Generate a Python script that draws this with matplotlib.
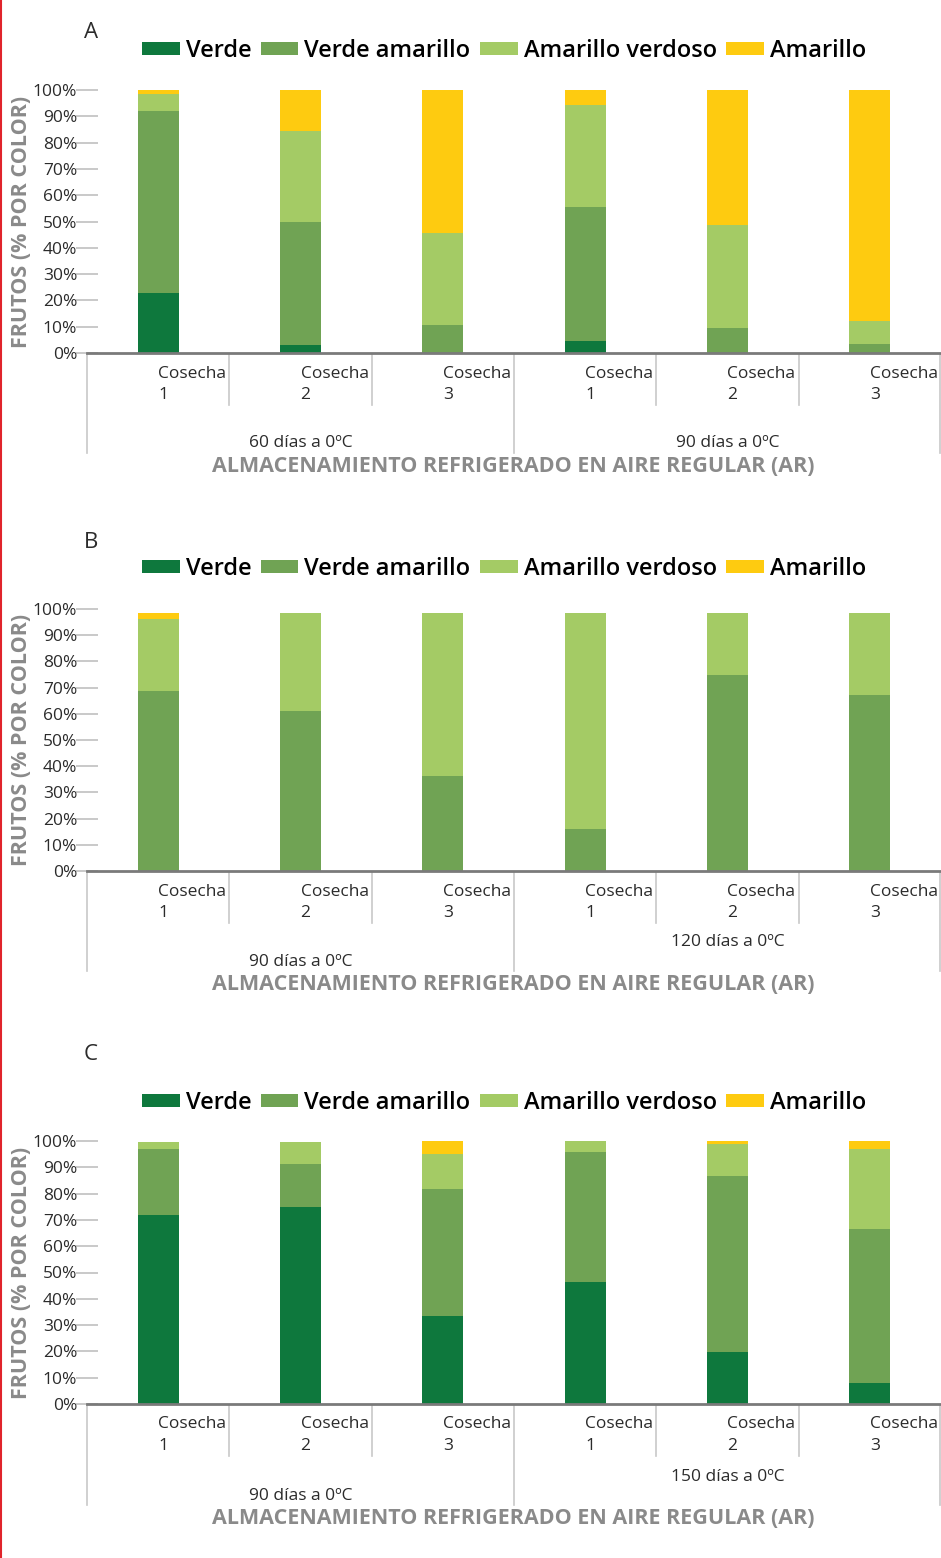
import matplotlib
matplotlib.use("Agg")
import matplotlib.pyplot as plt
from matplotlib.patches import Patch
from matplotlib.lines import Line2D
from matplotlib.transforms import blended_transform_factory
import numpy as np

# ---------------- data ----------------
categories = ["Cosecha\n1", "Cosecha\n2", "Cosecha\n3", "Cosecha\n1", "Cosecha\n2", "Cosecha\n3"]
series_names = ["Verde", "Verde amarillo", "Amarillo verdoso", "Amarillo"]
colors = ["#0e783d", "#70a354", "#a4cb65", "#fecb10"]

groups_A = ["60 días a 0ºC", "90 días a 0ºC"]
A_verde = [22.8, 2.9, 0.0, 4.4, 0.0, 0.0]
A_va = [69.2, 46.8, 10.5, 51.1, 9.4, 3.3]
A_av = [6.6, 34.7, 35.1, 38.8, 39.2, 8.8]
A_am = [1.4, 15.6, 54.4, 5.7, 51.4, 87.9]

groups_B = ["90 días a 0ºC", "120 días a 0ºC"]
B_verde = [0.0, 0.0, 0.0, 0.0, 0.0, 0.0]
B_va = [68.7, 61.1, 36.3, 16.0, 74.8, 67.2]
B_av = [27.5, 37.4, 62.2, 82.5, 23.7, 31.3]
B_am = [2.3, 0.0, 0.0, 0.0, 0.0, 0.0]

groups_C = ["90 días a 0ºC", "150 días a 0ºC"]
C_verde = [71.9, 74.9, 33.5, 46.4, 19.8, 8.0]
C_va = [25.1, 16.4, 48.3, 49.4, 66.9, 58.5]
C_av = [2.6, 8.3, 13.3, 4.2, 12.3, 30.4]
C_am = [0.0, 0.0, 4.9, 0.0, 1.0, 3.0]

panel_letters = ["A", "B", "C"]
y_ticks = [0, 10, 20, 30, 40, 50, 60, 70, 80, 90, 100]
y_label = "FRUTOS (% POR COLOR)"
x_title = "ALMACENAMIENTO REFRIGERADO EN AIRE REGULAR (AR)"

# ---------------- layout ----------------
W, H = 941, 1558
FONT = "Open Sans"
plt.rcParams['font.family'] = [FONT, 'DejaVu Sans']
fig = plt.figure(figsize=(W / 100, H / 100), dpi=100)

def fy(py):
    return 1 - py / H

def fx(px):
    return px / W

TXT = "#2b2b2b"
GRAY = "#8a8a8a"

panels = [
    dict(letter=panel_letters[0], top=90, zero=353, data=[A_verde, A_va, A_av, A_am], groups=groups_A,
         letter_y=32, legend_y=51, g1=443, g2=443, title_y=466, long_y=453),
    dict(letter=panel_letters[1], top=609, zero=871, data=[B_verde, B_va, B_av, B_am], groups=groups_B,
         letter_y=543, legend_y=569, g1=962, g2=942, title_y=984, long_y=971),
    dict(letter=panel_letters[2], top=1141, zero=1404, data=[C_verde, C_va, C_av, C_am], groups=groups_C,
         letter_y=1055, legend_y=1103, g1=1496, g2=1477, title_y=1518, long_y=1505),
]

AX_L, AX_R = 87, 941
x = np.arange(len(categories))

for p in panels:
    ax = fig.add_axes([fx(AX_L), fy(p["zero"]), fx(AX_R - AX_L), (p["zero"] - p["top"]) / H])
    bottom = np.zeros(len(categories))
    for name, col, vals in zip(series_names, colors, p["data"]):
        v = np.array(vals)
        ax.bar(x, v, bottom=bottom, width=0.29, color=col, label=name, linewidth=0, zorder=2)
        bottom += v
    ax.set_xlim(-0.5, len(categories) - 0.5)
    ax.set_ylim(0, 100)
    ax.set_yticks(y_ticks)
    ax.set_yticklabels([f"{t}%" for t in y_ticks], fontsize=12.5, color=TXT)
    ax.tick_params(axis='y', direction='inout', length=16, width=1.2, color="#c0c0c0", pad=-1)
    ax.set_xticks(x)
    ax.set_xticklabels(categories, fontsize=12.5, color=TXT, ha='left',
                       multialignment='left', linespacing=1.45)
    ax.tick_params(axis='x', length=0, pad=9)
    for s in ["left", "top", "right"]:
        ax.spines[s].set_visible(False)
    ax.spines["bottom"].set_color("#7a7a7a")
    ax.spines["bottom"].set_linewidth(2.0)
    ax.spines["bottom"].set_zorder(3)

    # separators below the axis
    tr = blended_transform_factory(ax.transData, fig.transFigure)
    for b in np.arange(-0.5, len(categories), 1.0):
        long = b in (-0.5, 2.5, len(categories) - 0.5)
        yb = p["long_y"] if long else p["zero"] + 52
        xb = b if b < len(categories) - 0.5 else b - 0.006
        ax.add_line(Line2D([xb, xb], [fy(p["zero"] + 1), fy(yb)], transform=tr,
                           color="#c8c8c8", lw=1.2, clip_on=False))
    # group labels
    ax.text(1.0, fy(p["g1"]), p["groups"][0], transform=tr, ha='center', va='center',
            fontsize=12.5, color=TXT)
    ax.text(4.0, fy(p["g2"]), p["groups"][1], transform=tr, ha='center', va='center',
            fontsize=12.5, color=TXT)
    # x title
    fig.text(fx(513), fy(p["title_y"]), x_title, ha='center', va='center',
             fontsize=15.5, fontweight='bold', color=GRAY)
    # y label
    fig.text(fx(22), fy((p["top"] + p["zero"]) / 2), y_label, rotation=90, ha='center',
             va='center', fontsize=15.5, fontweight='bold', color=GRAY)
    # panel letter
    fig.text(fx(91), fy(p["letter_y"]), p["letter"], ha='center', va='center',
             fontsize=16, color=TXT)
    # legend
    handles = [Patch(facecolor=c, edgecolor='none') for c in colors]
    fig.legend(handles, series_names, loc='center', bbox_to_anchor=(fx(504), fy(p["legend_y"])),
               ncol=4, frameon=False, handlelength=1.6, handleheight=0.45,
               handletextpad=0.25, columnspacing=0.4, borderaxespad=0,
               prop=dict(family=FONT, size=17, weight='semibold'))

# red border line at the left edge
fig.add_artist(Line2D([fx(1), fx(1)], [0, 1], transform=fig.transFigure, color="#e0242b", lw=1.5))

fig.savefig("out.png", dpi=100, facecolor="white")
